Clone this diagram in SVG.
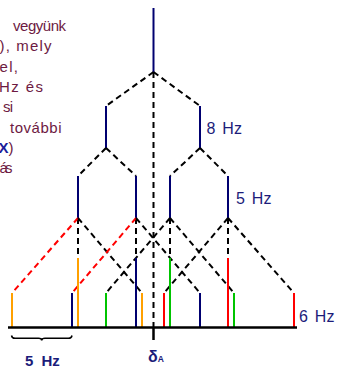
<svg xmlns="http://www.w3.org/2000/svg" width="338" height="370" viewBox="0 0 338 370">
<style>
.txt{font-family:"Liberation Sans",Arial,sans-serif;font-size:15px;fill:#6d1a42}
.lbl{font-family:"Liberation Sans",Arial,sans-serif;font-size:16px;fill:#1c1c7a;word-spacing:2.5px}
.bl{font-family:"Liberation Sans",Arial,sans-serif;font-weight:bold;fill:#1c1c7a}
.nv{stroke:#000070;stroke-width:2;fill:none}
.or{stroke:#ffa000;stroke-width:2;fill:none}
.gr{stroke:#00c400;stroke-width:2;fill:none}
.rd{stroke:#ff0000;stroke-width:2;fill:none}
.dk{stroke:#000;stroke-width:2;fill:none;stroke-dasharray:6 4}
.dr{stroke:#ff0000;stroke-width:2;fill:none;stroke-dasharray:6 4}
</style>
<g id="text-left">
<text class="txt" x="13" y="31" textLength="53" lengthAdjust="spacing">vegyünk</text>
<text class="txt" x="-0.5" y="51.3" textLength="52" lengthAdjust="spacing">), mely</text>
<text class="txt" x="-0.5" y="71.6" textLength="18.5" lengthAdjust="spacing">el,</text>
<text class="txt" x="-1" y="92" textLength="44" lengthAdjust="spacing">Hz és</text>
<text class="txt" x="3" y="112.3" textLength="10" lengthAdjust="spacing">si</text>
<text class="txt" x="10" y="132.6" textLength="51.5" lengthAdjust="spacing">további</text>
<text class="txt" x="-1.5" y="153"><tspan style="fill:#1c1c9a;font-weight:bold">X</tspan>)</text>
<text class="txt" x="-0.5" y="173.3" textLength="13" lengthAdjust="spacing">ás</text>
</g>
<g id="connectors">
<line class="nv" x1="153.5" y1="8" x2="153.5" y2="72"/>
<line class="dk" x1="153.5" y1="72" x2="153.5" y2="327"/>
<line x1="153.5" y1="327" x2="153.5" y2="340" stroke="#000" stroke-width="2.5"/>
<line class="dk" x1="153.5" y1="72" x2="106" y2="106"/>
<line class="dk" x1="153.5" y1="72" x2="200" y2="106"/>
<line class="nv" x1="106" y1="106" x2="106" y2="148"/>
<line class="nv" x1="200" y1="106" x2="200" y2="148"/>
<line class="dk" x1="106" y1="148" x2="78" y2="176"/>
<line class="dk" x1="106" y1="148" x2="136" y2="176"/>
<line class="dk" x1="200" y1="148" x2="170" y2="176"/>
<line class="dk" x1="200" y1="148" x2="228" y2="176"/>
<line class="nv" x1="78" y1="176" x2="78" y2="218"/>
<line class="nv" x1="136" y1="176" x2="136" y2="218"/>
<line class="nv" x1="170" y1="176" x2="170" y2="218"/>
<line class="nv" x1="228" y1="176" x2="228" y2="218"/>
<line class="dk" x1="78" y1="218" x2="78" y2="258"/>
<line class="dk" x1="136" y1="218" x2="136" y2="258"/>
<line class="dk" x1="170" y1="218" x2="170" y2="258"/>
<line class="dk" x1="228" y1="218" x2="228" y2="258"/>
<line class="dr" x1="78" y1="218" x2="12" y2="293"/>
<line class="dk" x1="78" y1="218" x2="142" y2="293"/>
<line class="dr" x1="136" y1="218" x2="72" y2="293"/>
<line class="dk" x1="136" y1="218" x2="200" y2="293"/>
<line class="dk" x1="170" y1="218" x2="106" y2="293"/>
<line class="dk" x1="170" y1="218" x2="234" y2="293"/>
<line class="dk" x1="228" y1="218" x2="164" y2="293"/>
<line class="dk" x1="228" y1="218" x2="294" y2="293"/>
</g>
<g id="sticks">
<line class="or" x1="78" y1="258" x2="78" y2="327"/>
<line class="nv" x1="136" y1="258" x2="136" y2="327"/>
<line class="gr" x1="170" y1="258" x2="170" y2="327"/>
<line class="rd" x1="228" y1="258" x2="228" y2="327"/>
<line class="or" x1="12" y1="293" x2="12" y2="327"/>
<line class="nv" x1="72" y1="293" x2="72" y2="327"/>
<line class="gr" x1="106" y1="293" x2="106" y2="327"/>
<line class="or" x1="142" y1="293" x2="142" y2="327"/>
<line class="rd" x1="164" y1="293" x2="164" y2="327"/>
<line class="nv" x1="200" y1="293" x2="200" y2="327"/>
<line class="gr" x1="234" y1="293" x2="234" y2="327"/>
<line class="rd" x1="294" y1="293" x2="294" y2="327"/>
</g>
<g id="axis">
<line x1="8" y1="327.5" x2="297" y2="327.5" stroke="#000" stroke-width="2.5"/>
<path d="M11.5,335.5 Q12,338.3 15,338.3 L38.5,338.3 Q41.7,338.3 41.7,340.5 Q41.7,338.3 45,338.3 L68.5,338.3 Q71.5,338.3 72,335.5" fill="none" stroke="#000" stroke-width="1.5"/>
</g>
<g id="labels">
<text class="lbl" x="206.5" y="134">8 Hz</text>
<text class="lbl" x="236" y="204">5 Hz</text>
<text class="lbl" x="299" y="322">6 Hz</text>
<text class="bl" x="25" y="366" style="font-size:15px;word-spacing:4px">5 Hz</text>
<text class="bl" x="148" y="362" style="font-size:16px">δ<tspan style="font-size:8.5px">A</tspan></text>
</g>
</svg>
